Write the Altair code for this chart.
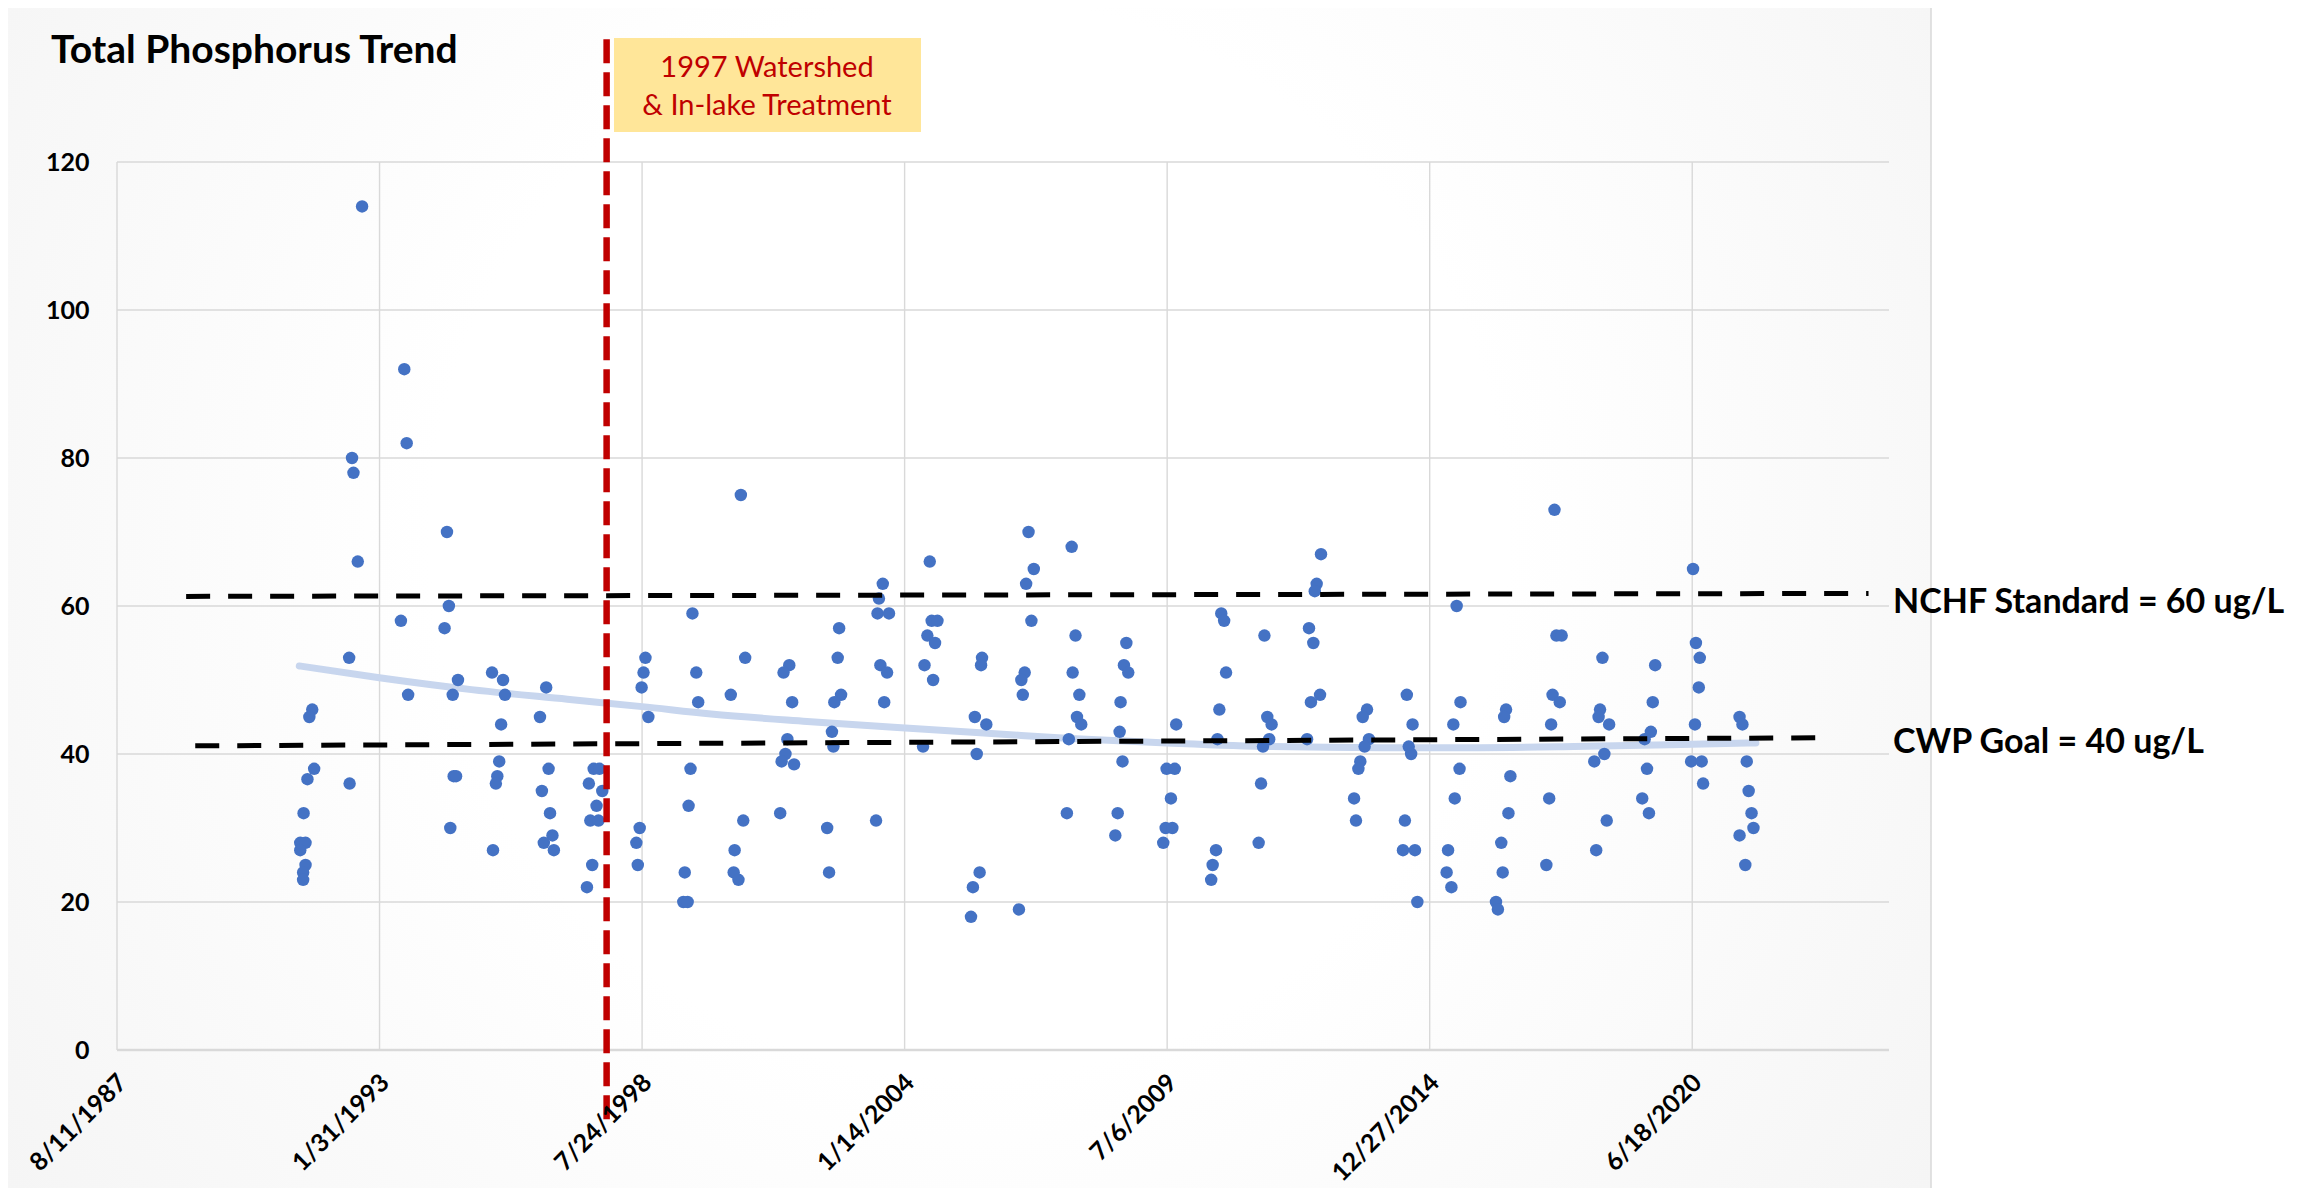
import altair as alt
import pandas as pd

# ---------------- data ----------------
sample_year = [
    1991.68, 1991.62, 1991.72, 1991.58, 1991.50, 1991.43, 1991.54, 1991.43, 1991.54, 1991.49, 1991.49,
    1992.72, 1992.51, 1992.54, 1992.63, 1992.45, 1992.46,
    1993.60, 1993.65, 1993.53, 1993.68,
    1994.49, 1994.53, 1994.44, 1994.72, 1994.61, 1994.63, 1994.68, 1994.56,
    1995.43, 1995.66, 1995.70, 1995.62, 1995.58, 1995.54, 1995.51, 1995.45,
    1996.56, 1996.43, 1996.61, 1996.47, 1996.64, 1996.69, 1996.51, 1996.72,
    1997.55, 1997.67, 1997.45, 1997.73, 1997.61, 1997.48, 1997.65, 1997.52, 1997.41,
    1998.63, 1998.59, 1998.55, 1998.69, 1998.51, 1998.44, 1998.47,
    1999.61, 1999.69, 1999.73, 1999.57, 1999.53, 1999.45, 1999.42, 1999.51,
    2000.62, 2000.71, 2000.41, 2000.67, 2000.49, 2000.47, 2000.57,
    2001.63, 2001.51, 2001.69, 2001.59, 2001.55, 2001.47, 2001.73, 2001.44,
    2002.67, 2002.64, 2002.71, 2002.57, 2002.52, 2002.55, 2002.42, 2002.46,
    2003.58, 2003.50, 2003.47, 2003.71, 2003.53, 2003.67, 2003.61, 2003.44,
    2004.56, 2004.60, 2004.72, 2004.51, 2004.67, 2004.45, 2004.63, 2004.42,
    2005.65, 2005.63, 2005.50, 2005.74, 2005.54, 2005.60, 2005.46, 2005.42,
    2006.62, 2006.73, 2006.57, 2006.68, 2006.54, 2006.47, 2006.50, 2006.42,
    2007.52, 2007.60, 2007.54, 2007.68, 2007.63, 2007.72, 2007.46, 2007.42,
    2008.66, 2008.61, 2008.70, 2008.54, 2008.52, 2008.58, 2008.48, 2008.43,
    2009.50, 2009.67, 2009.70, 2009.59, 2009.48, 2009.62, 2009.43,
    2010.64, 2010.70, 2010.74, 2010.60, 2010.56, 2010.53, 2010.46, 2010.43,
    2011.54, 2011.60, 2011.69, 2011.64, 2011.51, 2011.47, 2011.42,
    2012.72, 2012.63, 2012.59, 2012.47, 2012.56, 2012.70, 2012.51, 2012.43,
    2013.68, 2013.59, 2013.72, 2013.63, 2013.54, 2013.50, 2013.41, 2013.45,
    2014.51, 2014.63, 2014.55, 2014.60, 2014.47, 2014.43, 2014.68, 2014.73,
    2015.55, 2015.63, 2015.48, 2015.61, 2015.51, 2015.37, 2015.34, 2015.44,
    2016.58, 2016.54, 2016.67, 2016.63, 2016.48, 2016.51, 2016.37, 2016.41,
    2017.59, 2017.63, 2017.74, 2017.55, 2017.70, 2017.52, 2017.48, 2017.42,
    2018.59, 2018.54, 2018.51, 2018.73, 2018.63, 2018.42, 2018.68, 2018.46,
    2019.69, 2019.64, 2019.60, 2019.47, 2019.52, 2019.42, 2019.56,
    2020.48, 2020.54, 2020.62, 2020.60, 2020.52, 2020.44, 2020.66, 2020.69,
    2021.45, 2021.51, 2021.60, 2021.64, 2021.70, 2021.74, 2021.45, 2021.57,
]
tp_ugL = [
    46, 45, 38, 36.6, 32, 28, 28, 27, 25, 24, 23,
    114, 80, 78, 66, 53, 36,
    92, 82, 58, 48,
    70, 60, 57, 50, 48, 37, 37, 30,
    51, 50, 48, 44, 39, 37, 36, 27,
    49, 45, 38, 35, 32, 29, 28, 27,
    38, 38, 36, 35, 33, 31, 31, 25, 22,
    53, 51, 49, 45, 30, 28, 25,
    59, 51, 47, 38, 33, 24, 20, 20,
    75, 53, 48, 31, 27, 24, 23,
    52, 51, 47, 42, 40, 39, 38.6, 32,
    57, 53, 48, 47, 43, 41, 30, 24,
    63, 61, 59, 59, 52, 51, 47, 31,
    66, 58, 58, 56, 55, 52, 50, 41,
    53, 52, 45, 44, 40, 24, 22, 18,
    70, 65, 63, 58, 51, 50, 48, 19,
    68, 56, 51, 48, 45, 44, 42, 32,
    55, 52, 51, 47, 43, 39, 32, 29,
    38, 38, 44, 34, 30, 30, 28,
    59, 58, 51, 46, 42, 27, 25, 23,
    56, 45, 44, 42, 41, 36, 28,
    67, 63, 62, 57, 55, 48, 47, 42,
    46, 45, 42, 41, 39, 38, 34, 31,
    48, 44, 41, 40, 31, 27, 27, 20,
    60, 47, 44, 38, 34, 27, 24, 22,
    46, 45, 37, 32, 28, 24, 20, 19,
    73, 56, 56, 48, 47, 44, 34, 25,
    53, 46, 45, 44, 40, 39, 31, 27,
    52, 47, 43, 42, 38, 34, 32,
    65, 55, 53, 49, 44, 39, 39, 36,
    45, 44, 39, 35, 32, 30, 29, 25,
]

trend_year = [1991.41, 1993.08, 1995.0, 1997.0, 1998.56, 2000.0, 2002.0, 2004.05,
              2006.0, 2007.5, 2009.5, 2011.7, 2014.0, 2016.0, 2018.0, 2020.0, 2021.79]
trend_ugL = [51.9, 50.3, 48.7, 47.4, 46.4, 45.4, 44.4, 43.5,
             42.7, 42.1, 41.5, 41.0, 40.85, 40.85, 41.0, 41.25, 41.5]

x_tick_labels = ["8/11/1987", "1/31/1993", "7/24/1998", "1/14/2004",
                 "7/6/2009", "12/27/2014", "6/18/2020"]
axis_end_label = "7/26/2024"
y_tick_values = [0, 20, 40, 60, 80, 100, 120]

ref_label = ["NCHF Standard = 60 ug/L", "CWP Goal = 40 ug/L"]
ref_start_year = [1989.05, 1989.24]
ref_end_year = [2024.14, 2023.40]
ref_start_ugL = [61.3, 41.1]
ref_end_ugL = [61.7, 42.2]
ref_label_ugL = [59.1, 40.1]

treatment_year = [1997.82]
treatment_top_ugL = [136.6]
treatment_bottom_ugL = [-9.5]
treatment_text = "1997 Watershed\n& In-lake Treatment"
chart_title = "Total Phosphorus Trend"

# ---------------- helpers ----------------
BASE = pd.Timestamp("1987-08-11")
BASE_YEAR = 1987.608


def year_to_iso(y):
    ts = BASE + pd.Timedelta(days=(y - BASE_YEAR) * 365.2425)
    return ts.strftime("%Y-%m-%dT%H:%M:%S")


def label_to_iso(s):
    return pd.to_datetime(s, format="%m/%d/%Y").strftime("%Y-%m-%dT%H:%M:%S")


def label_to_dt(s):
    t = pd.to_datetime(s, format="%m/%d/%Y")
    return alt.DateTime(year=t.year, month=t.month, date=t.day)


FONT = "Lato"
x_scale = alt.Scale(domain=[label_to_dt(x_tick_labels[0]), label_to_dt(axis_end_label)], nice=False)
y_scale = alt.Scale(domain=[0, 120], nice=False, zero=False)

x_axis = alt.Axis(
    values=[label_to_dt(s) for s in x_tick_labels], format="%-m/%-d/%Y",
    labelAngle=-45, labelAlign="right", labelBaseline="middle",
    labelFont=FONT, labelFontWeight="bold", labelFontSize=25, labelColor="black",
    labelPadding=28, labelOffset=5, labelOverlap=False, labelFlush=False,
    labelBound=False, grid=False, domain=False, ticks=False, title=None, zindex=1,
)
y_axis = alt.Axis(
    values=y_tick_values, labelFont=FONT, labelFontWeight="bold", labelFontSize=25,
    labelColor="black", labelPadding=28, labelFlush=False, labelOverlap=False,
    grid=False, domain=False, ticks=False, title=None, zindex=1,
)


def X(field):
    return alt.X(field, scale=x_scale, axis=x_axis, title=None)


def Y(field):
    return alt.Y(field, scale=y_scale, axis=y_axis, title=None)


pts = pd.DataFrame({"date": [year_to_iso(y) for y in sample_year], "tp": tp_ugL})
trend = pd.DataFrame({"date": [year_to_iso(y) for y in trend_year], "tp": trend_ugL})
vgrid = pd.DataFrame({"date": [label_to_iso(s) for s in x_tick_labels]})
hgrid = pd.DataFrame({"v": [v for v in y_tick_values if v > 0]})
zero = pd.DataFrame({"v": [v for v in y_tick_values if v == 0]})
refs = pd.DataFrame({
    "label": ref_label,
    "d1": [year_to_iso(y) for y in ref_start_year],
    "d2": [year_to_iso(y) for y in ref_end_year],
    "v1": ref_start_ugL,
    "v2": ref_end_ugL,
    "lv": ref_label_ugL,
    "ld": [label_to_iso(axis_end_label)] * len(ref_label),
})
treat = pd.DataFrame({"date": [year_to_iso(y) for y in treatment_year],
                      "top": treatment_top_ugL, "bottom": treatment_bottom_ugL})
one = pd.DataFrame({"k": [0]})

GRID = "#d9d9d9"

bg_fill = alt.RadialGradient(
    gradient="radial",
    stops=[alt.GradientStop(color="#ffffff", offset=0),
           alt.GradientStop(color="#ffffff", offset=0.35),
           alt.GradientStop(color="#efefef", offset=1)],
    x1=0.5, y1=0.45, r1=0, x2=0.5, y2=0.45, r2=0.8,
)

background = alt.Chart(one).mark_rect(fill=bg_fill, stroke="#d9d9d9", strokeWidth=1.5).encode(
    x=alt.value(-110), x2=alt.value(1814), y=alt.value(-156), y2=alt.value(1100)
)

vgrid_layer = alt.Chart(vgrid).mark_rule(color=GRID, strokeWidth=1.4).encode(x=X("date:T"))
hgrid_layer = alt.Chart(hgrid).mark_rule(color=GRID, strokeWidth=1.4).encode(y=Y("v:Q"))
zero_layer = alt.Chart(zero).mark_rule(color=GRID, strokeWidth=2.6).encode(y=Y("v:Q"))

trend_layer = alt.Chart(trend).mark_line(
    color="#c8d6ee", strokeWidth=7, interpolate="monotone", strokeCap="round"
).encode(x=X("date:T"), y=Y("tp:Q"))

points = alt.Chart(pts).mark_circle(size=155, color="#4472C4", opacity=1).encode(
    x=X("date:T"), y=Y("tp:Q")
)

ref_lines = alt.Chart(refs).mark_rule(color="black", strokeWidth=5, strokeDash=[24, 18]).encode(
    x=X("d1:T"), x2="d2:T", y=Y("v1:Q"), y2="v2:Q",
)
ref_text = alt.Chart(refs).mark_text(
    align="left", baseline="alphabetic", dx=4, font=FONT, fontWeight="bold",
    fontSize=34, color="black",
).encode(x=X("ld:T"), y=Y("lv:Q"), text="label:N")

treat_line = alt.Chart(treat).mark_rule(color="#C00000", strokeWidth=6.5, strokeDash=[24, 9]).encode(
    x=X("date:T"), y=Y("top:Q"), y2="bottom:Q",
)

box = alt.Chart(one).mark_rect(fill="#FFE699").encode(
    x=alt.value(497), x2=alt.value(804), y=alt.value(-124), y2=alt.value(-30)
)
box_text = alt.Chart(one).mark_text(
    align="center", baseline="alphabetic", font=FONT, fontSize=29, color="#C00000",
    lineBreak="\n", lineHeight=38,
).encode(x=alt.value(650), y=alt.value(-85), text=alt.value(treatment_text))

title = alt.Chart(one).mark_text(
    align="left", baseline="alphabetic", font=FONT, fontSize=39, fontWeight="bold", color="black"
).encode(x=alt.value(-66), y=alt.value(-99), text=alt.value(chart_title))

chart = alt.layer(
    background, vgrid_layer, hgrid_layer, zero_layer, trend_layer, points,
    ref_lines, treat_line, box, box_text, title, ref_text,
).properties(
    width=1772, height=888,
    padding={"left": 109, "top": 154, "right": 399, "bottom": 138},
    autosize=alt.AutoSizeParams(type="none"),
).configure(background="white").configure_view(strokeWidth=0)

chart.save("out.html", embed_options={"renderer": "svg", "actions": False})
